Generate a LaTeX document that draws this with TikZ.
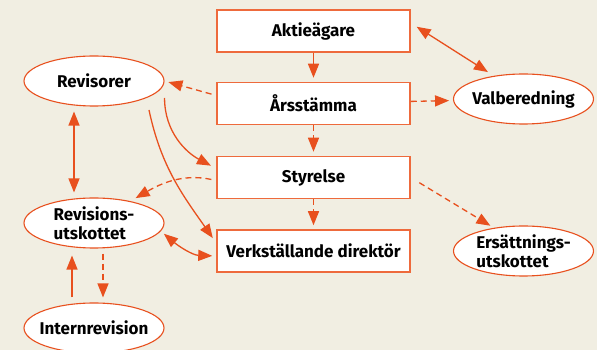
\documentclass[tikz,border=0pt]{standalone}
\usepackage{fontspec}
\setmainfont{Fira Sans}
\usetikzlibrary{arrows.meta,shapes.geometric}
\definecolor{paper}{HTML}{F1EEE2}
\definecolor{rust}{HTML}{E8501E}
\definecolor{rustlight}{HTML}{EE6A3C}
\tikzset{
  label font/.style={font=\bfseries\fontsize{17}{19}\selectfont},
  org/.style={draw=rustlight, line width=1.5pt, fill=white, minimum width=193pt, minimum height=42pt, label font},
  unit/.style={ellipse, draw=rust, line width=1.1pt, fill=white, minimum width=140pt, minimum height=50pt, inner xsep=-12pt, inner ysep=-6pt, align=left, label font},
  link/.style={rust, line width=1.3pt, -{Triangle[length=14pt,width=11pt]}, shorten >=4pt},
  both/.style={link, {Triangle[length=14pt,width=11pt]}-{Triangle[length=14pt,width=11pt]}, shorten <=4pt},
  hint/.style={link, dash pattern=on 6pt off 4pt}
}
\begin{document}
\begin{tikzpicture}[x=1pt, y=1pt]
			\useasboundingbox (0,0) rectangle (597,350);
			\clip (0,0) rectangle (597,350);
			\fill[paper] (0,0) rectangle (597,350);
			% the chain in the middle
			\node[org] (akt) at (313.5,319) {Aktieägare};
			\node[org] (ars) at (313.5,246.5) {Årsstämma};
			\node[org] (sty) at (313.5,172.5) {Styrelse};
			\node[org] (vd) at (313.5,99) {Verkställande direktör};
			% committees and auditors
			\node[unit] (rev) at (94,269) {Revisorer};
			\node[unit] (val) at (523.5,251) {Valberedning};
			\node[unit] (ru) at (94,127) {Revisions-\\utskottet};
			\node[unit] (ir) at (94,22) {Internrevision};
			\node[unit] (ers) at (523.5,99) {Ersättnings-\\utskottet};
			% arrows
			\draw[link] (akt) -- (ars);
			\draw[hint] (ars) -- (sty);
			\draw[hint] (sty) -- (vd);
			\draw[both, shorten <=7pt, shorten >=7pt] ([yshift=8pt]akt.east) -- (val.142);
			\draw[hint] (ars) -- (val);
			\draw[hint, shorten <=5pt] ([yshift=8pt]ars.west) -- (rev.east);
			\draw[link, shorten >=6pt] ([yshift=-17pt]rev.east) to[out=-90, in=152] ([yshift=9pt]sty.west);
			\draw[link, shorten >=6pt] ([shift={(55pt,-29pt)}]rev.center) to[out=-78, in=125] ([yshift=8pt]vd.west);
			\draw[hint, shorten <=5pt, shorten >=6pt] ([yshift=-3pt]sty.west) to[out=168, in=30] (ru.31);
			\draw[both, shorten <=5pt, shorten >=5pt] ([xshift=-20pt]rev.south) -- ([xshift=-20pt]ru.north);
			\draw[both] (ru.-7) to[out=-40, in=178] ([yshift=-5pt]vd.west);
			\draw[link, shorten <=5pt, shorten >=7pt] ([xshift=-22pt]ir.north) -- ([xshift=-22pt]ru.south);
			\draw[hint, shorten <=5pt, shorten >=5pt] ([xshift=9pt]ru.south) -- ([xshift=9pt]ir.north);
			\draw[hint, shorten <=10pt] (sty.east) -- (ers.142);
		\end{tikzpicture}
\end{document}
